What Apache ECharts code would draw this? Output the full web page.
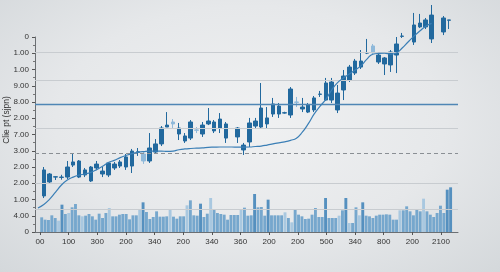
<!DOCTYPE html>
<html><head><meta charset="utf-8">
<script src="https://cdn.jsdelivr.net/npm/echarts@6/dist/echarts.min.js"></script>
<style>
html,body{margin:0;padding:0;}
body{width:500px;height:272px;background:radial-gradient(ellipse at 50% 45%, #f0f1f2 0%, #e6e8ea 55%, #d4d8db 100%);overflow:hidden;}
#c{width:500px;height:272px;}
</style></head><body><div id="c"></div>
<script>
// y-axis tick labels (bottom to top)
const yLabels = ["0","4.00","1.00","2.00","2.00","3.00","7.00","2.00","8.00","9.00","1.00","1.00","0"];
// x-axis tick labels
const xLabels = ["00","100","300","200","340","200","340","360","200","200","500","340","800","200","2100"];
const yName = "Clie pt (sjpn)";

// candlesticks [open, close, low, high]; null = empty slot
const candles = [
  null,
  [2.22,3.82,2.09,4.00],[3.08,3.57,3.02,3.63],[3.38,3.40,3.20,3.42],[3.36,3.38,3.22,3.52],
  [3.38,4.00,3.26,4.37],[4.12,4.31,4.00,4.86],[3.38,4.37,3.32,4.43],[3.51,3.82,3.38,3.94],
  [3.14,4.00,3.08,4.06],[3.94,4.18,3.82,4.37],[3.57,3.75,3.38,4.00],[3.51,4.25,3.38,4.31],
  [3.94,4.18,3.82,4.31],[4.06,4.31,3.94,4.43],[4.00,4.62,3.82,4.80],[4.06,4.98,3.63,5.11],
  [4.90,4.94,4.68,5.17],[4.37,4.80,4.19,4.92],[4.37,5.17,4.25,6.09],[4.92,5.42,4.86,5.72],
  [5.42,6.40,5.29,6.52],[6.46,6.58,6.46,7.38],[6.65,6.77,6.40,6.95],[6.03,6.40,5.66,6.71],
  [5.60,5.91,5.48,6.09],[5.78,6.77,5.66,6.89],[6.26,6.28,6.09,6.46],[6.03,6.58,5.85,6.77],
  [6.65,6.83,6.58,7.63],[6.22,6.77,6.09,6.89],[6.40,6.95,6.09,7.32],[5.78,6.65,5.48,6.77],
  null,
  [5.85,6.40,5.48,6.46],[5.05,5.35,4.74,5.48],[5.54,6.71,5.23,7.02],[6.52,6.83,6.40,7.02],
  [6.46,7.63,6.40,9.17],[6.65,7.02,6.40,7.69],[7.26,7.88,7.08,8.25],[7.26,7.75,7.02,7.94],
  [7.32,7.34,7.28,7.40],[7.20,8.80,7.02,8.92],[7.98,8.00,7.69,8.31],[7.57,7.69,7.38,8.25],
  [7.38,7.82,7.32,7.94],[7.51,8.25,7.38,8.37],[8.47,8.49,8.31,8.68],[8.12,9.17,8.06,9.48],
  [8.12,9.23,7.94,9.48],[7.51,8.55,7.32,9.05],[8.74,9.60,8.12,9.97],[9.35,10.15,9.23,10.28],
  [9.78,10.52,9.66,10.65],[10.15,10.52,10.03,11.20],[11.01,11.03,10.95,11.88],[11.02,11.45,10.89,11.57],
  [10.46,10.89,10.34,11.02],[10.34,10.71,9.66,10.77],[10.28,11.08,9.85,11.20],[10.89,11.57,9.78,12.00],
  [12.04,12.06,11.94,12.25],
  null,
  [11.69,12.74,11.51,13.48],[12.62,12.86,12.55,13.42],[12.62,13.05,12.49,13.17],[11.88,13.35,11.63,13.97],
  null,
  [12.31,13.17,12.12,13.29],[13.03,13.05,12.49,13.05],
  null
];
const lightCandles = [18, 23, 27, 44, 57];

// moving-average line, one value per slot
const maLine = [1.48,1.69,2.02,2.45,2.89,3.20,3.38,3.50,3.57,3.67,3.84,4.04,4.28,4.41,4.58,4.71,4.82,4.90,4.95,4.98,
  4.98,4.98,4.96,4.98,5.06,5.11,5.14,5.16,5.18,5.21,5.22,5.23,5.23,5.23,5.22,5.22,5.23,5.26,5.29,5.35,
  5.42,5.49,5.55,5.64,5.77,6.14,6.65,7.25,7.73,8.16,8.74,9.19,9.48,9.72,9.97,10.24,10.64,10.94,10.99,11.00,
  10.95,11.02,11.32,11.69,12.05,12.37,12.66,12.84];

// reference levels
const gridLevels = [11.08, 9.35, 6.40, 3.02, 1.42];
const blueLevel = 7.88;
const dashedLevel = 4.86;

// volume bars
const volume = [44,37,36,50,42,34,82,54,57,74,84,50,47,49,54,47,37,55,42,57,
  72,47,47,52,54,54,38,50,50,67,89,60,39,45,62,46,46,47,69,46,
  40,47,47,80,95,50,49,85,45,55,102,69,57,54,52,37,51,51,51,67,
  73,49,50,114,74,75,49,97,50,50,50,50,59,42,29,66,52,47,39,40,
  52,72,45,45,102,42,42,42,49,65,102,27,27,74,50,89,49,47,42,49,
  52,52,53,52,37,37,65,65,77,62,50,67,62,100,62,52,45,57,79,57,
  127,134];
const volDark = [6,30,47,63,67,84,90,95,120,121];
const volLight = [5,8,12,20,29,38,43,50,59,72,74,88,91,94,106,113];

const slots = candles.map((_, i) => String(i));
const candleData = candles.map((c, i) => {
  if (!c) return ['-','-','-','-'];
  if (lightCandles.includes(i)) {
    return { value: c, itemStyle: { color: '#8fb9da', color0: '#8fb9da', borderColor: '#8fb9da', borderColor0: '#8fb9da' } };
  }
  return c;
});
const maData = slots.map((_, i) => i < maLine.length ? maLine[i] : '-');
const volData = volume.map((v, i) => {
  let col = '#76a7cd';
  if (volDark.includes(i)) col = '#5590bf';
  else if (volLight.includes(i)) col = '#a9c8e0';
  return { value: v, itemStyle: { color: col } };
});

const font = 'Liberation Sans, Arial, sans-serif';
const chart = echarts.init(document.getElementById('c'), null, { renderer: 'canvas' });
chart.setOption({
  backgroundColor: 'transparent',
  animation: false,
  grid: [
    { left: 35, right: 42, top: 37, bottom: 40 },
    { left: 40, right: 59, top: 37, bottom: 40 },
    { left: 40, right: 47.7, top: 37, bottom: 40 }
  ],
  xAxis: [
    { type: 'category', gridIndex: 0, data: slots, boundaryGap: true,
      axisLine: { show: true, lineStyle: { color: '#6b6f73', width: 1 } },
      axisTick: { show: false }, axisLabel: { show: false }, splitLine: { show: false } },
    { type: 'category', gridIndex: 1, data: xLabels, boundaryGap: false,
      axisLine: { show: false },
      axisTick: { show: true, length: 3, lineStyle: { color: '#555' } },
      axisLabel: { show: true, interval: 0, fontSize: 8, color: '#333', margin: 6, fontFamily: font },
      splitLine: { show: false } },
    { type: 'category', gridIndex: 2, data: volume.map((_, i) => String(i)), show: false }
  ],
  yAxis: [
    { type: 'value', gridIndex: 0, min: 0, max: 12, interval: 1,
      axisLine: { show: true, lineStyle: { color: '#6b6f73', width: 1 } },
      axisTick: { show: true, length: 3, lineStyle: { color: '#555' } },
      minorTick: { show: true, splitNumber: 2, length: 2, lineStyle: { color: '#777' } },
      axisLabel: { fontSize: 8, color: '#333', margin: 6, fontFamily: font,
        formatter: v => yLabels[Math.round(v)] },
      splitLine: { show: false } },
    { type: 'value', gridIndex: 1, min: 0, max: 1, show: false },
    { type: 'value', gridIndex: 2, min: 0, max: 585, show: false }
  ],
  graphic: [
    { type: 'text', x: 7, y: 120, rotation: Math.PI / 2,
      style: { text: yName, fontSize: 8.5, fill: '#333', fontFamily: font, align: 'center', verticalAlign: 'middle' } }
  ],
  series: [
    { type: 'line', xAxisIndex: 0, yAxisIndex: 0, data: slots.map(() => '-'), z: 1, silent: true,
      markLine: { symbol: 'none', silent: true, label: { show: false }, animation: false,
        data: [
          ...gridLevels.map(v => ({ yAxis: v, lineStyle: { color: '#c8ccd0', width: 1, type: 'solid' } })),
          { yAxis: blueLevel, lineStyle: { color: '#4f86b5', width: 1.3, type: 'solid' } },
          { yAxis: dashedLevel, lineStyle: { color: '#8a8f94', width: 1.2, type: [4, 3] } }
        ] } },
    { type: 'bar', xAxisIndex: 2, yAxisIndex: 2, data: volData, barCategoryGap: '14%', z: 2, silent: true },
    { type: 'candlestick', xAxisIndex: 0, yAxisIndex: 0, data: candleData, barWidth: 4, clip: false, z: 4,
      itemStyle: { color: '#22699e', color0: '#22699e', borderColor: '#22699e', borderColor0: '#22699e', borderWidth: 1 } },
    { type: 'line', xAxisIndex: 0, yAxisIndex: 0, data: maData, smooth: true, showSymbol: false, clip: false, z: 5,
      lineStyle: { color: '#3b7fb6', width: 1.2 } }
  ]
});
</script></body></html>
